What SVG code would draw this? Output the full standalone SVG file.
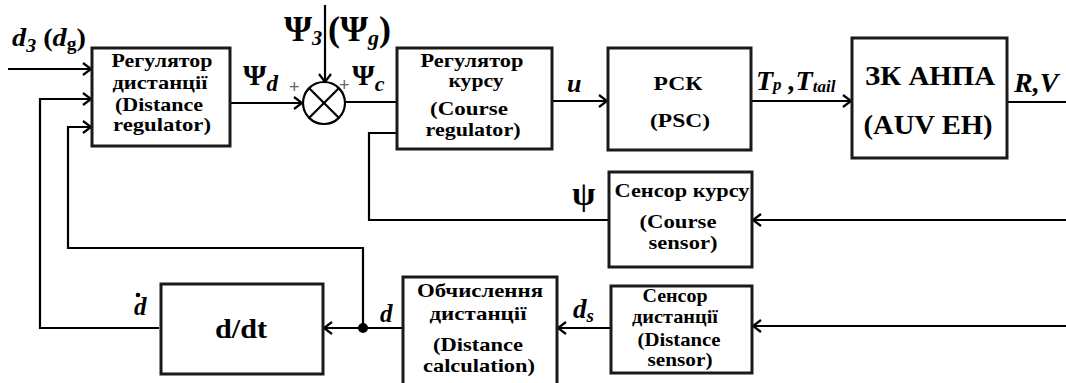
<svg xmlns="http://www.w3.org/2000/svg" width="1066" height="383" viewBox="0 0 1066 383">
<style>
.box{fill:#fff;stroke:#1a1a1a;stroke-width:3}
.ln{fill:none;stroke:#000;stroke-width:2.2}
.t{font-family:"Liberation Serif",Tinos,"Times New Roman","DejaVu Serif",serif;font-weight:bold;font-size:19px;fill:#000;text-anchor:middle}
.m{font-family:"Liberation Serif",Tinos,"Times New Roman","DejaVu Serif",serif;font-weight:bold;fill:#000}
.i{font-style:italic}
.n{font-style:normal}
.pl{font-family:"Liberation Sans",Arial,sans-serif;font-size:18px;fill:#666}
</style>
<defs>
<marker id="ar" markerUnits="userSpaceOnUse" markerWidth="12" markerHeight="14" refX="10" refY="7" orient="auto">
<path d="M2,1 L10,7 L2,13" fill="none" stroke="#000" stroke-width="2.2"/>
</marker>
</defs>

<g id="connectors">
<line class="ln" x1="8" y1="69" x2="91" y2="69" marker-end="url(#ar)"/>
<polyline class="ln" points="159,328 40,328 40,99 91,99" marker-end="url(#ar)"/>
<polyline class="ln" points="363,328 363,248 68,248 68,127 91,127" marker-end="url(#ar)"/>
<line class="ln" x1="231" y1="103" x2="302" y2="103" marker-end="url(#ar)"/>
<line class="ln" x1="325" y1="5" x2="325" y2="82" marker-end="url(#ar)"/>
<line class="ln" x1="345" y1="102" x2="397" y2="102"/>
<line class="ln" x1="553" y1="101" x2="607" y2="101" marker-end="url(#ar)"/>
<line class="ln" x1="752" y1="101" x2="851" y2="101" marker-end="url(#ar)"/>
<line class="ln" x1="1008" y1="102" x2="1066" y2="102"/>
<polyline class="ln" points="609,220 369,220 369,133 397,133"/>
<line class="ln" x1="1066" y1="220" x2="753" y2="220" marker-end="url(#ar)"/>
<line class="ln" x1="1066" y1="326" x2="753" y2="326" marker-end="url(#ar)"/>
<line class="ln" x1="611" y1="328" x2="558" y2="328" marker-end="url(#ar)"/>
<line class="ln" x1="403" y1="328" x2="324" y2="328" marker-end="url(#ar)"/>
<circle cx="363" cy="328" r="5" fill="#000"/>
</g>

<g id="sum">
<circle cx="324" cy="103" r="21" fill="#fff" stroke="#000" stroke-width="2.2"/>
<line class="ln" x1="309.2" y1="88.2" x2="338.8" y2="117.8"/>
<line class="ln" x1="338.8" y1="88.2" x2="309.2" y2="117.8"/>
<text class="pl" x="289" y="93">+</text>
<text class="pl" x="339" y="91">+</text>
</g>

<g id="distance-regulator">
<rect class="box" x="92" y="48" width="138" height="98"/>
<text class="t" x="162" y="67" textLength="101" lengthAdjust="spacingAndGlyphs">Регулятор</text>
<text class="t" x="160" y="89" textLength="95" lengthAdjust="spacingAndGlyphs">дистанції</text>
<text class="t" x="159" y="111" textLength="88" lengthAdjust="spacingAndGlyphs">(Distance</text>
<text class="t" x="162" y="131" textLength="98" lengthAdjust="spacingAndGlyphs">regulator)</text>
</g>

<g id="course-regulator">
<rect class="box" x="397" y="48" width="155" height="101"/>
<text class="t" x="472" y="67" textLength="103" lengthAdjust="spacingAndGlyphs">Регулятор</text>
<text class="t" x="476" y="87" textLength="55" lengthAdjust="spacingAndGlyphs">курсу</text>
<text class="t" x="469" y="115" textLength="78" lengthAdjust="spacingAndGlyphs">(Course</text>
<text class="t" x="473" y="136" textLength="95" lengthAdjust="spacingAndGlyphs">regulator)</text>
</g>

<g id="psc">
<rect class="box" x="608" y="48" width="143" height="102"/>
<text class="t" x="678" y="90" textLength="49" lengthAdjust="spacingAndGlyphs">РСК</text>
<text class="t" x="680" y="127" textLength="60" lengthAdjust="spacingAndGlyphs">(PSC)</text>
</g>

<g id="auv">
<rect class="box" x="852" y="38" width="155" height="120"/>
<text class="t" x="930" y="85" style="font-size:27px" textLength="130" lengthAdjust="spacingAndGlyphs">ЗК АНПА</text>
<text class="t" x="928" y="134" style="font-size:27px" textLength="129" lengthAdjust="spacingAndGlyphs">(AUV EH)</text>
</g>

<g id="course-sensor">
<rect class="box" x="609" y="172" width="143" height="95"/>
<text class="t" x="682" y="197" textLength="135" lengthAdjust="spacingAndGlyphs">Сенсор курсу</text>
<text class="t" x="678" y="228" textLength="77" lengthAdjust="spacingAndGlyphs">(Course</text>
<text class="t" x="683" y="249" textLength="69" lengthAdjust="spacingAndGlyphs">sensor)</text>
</g>

<g id="distance-sensor">
<rect class="box" x="611" y="286" width="141" height="87"/>
<text class="t" x="675" y="302" textLength="65" lengthAdjust="spacingAndGlyphs">Сенсор</text>
<text class="t" x="675" y="323" textLength="86" lengthAdjust="spacingAndGlyphs">дистанції</text>
<text class="t" x="679" y="346" textLength="83" lengthAdjust="spacingAndGlyphs">(Distance</text>
<text class="t" x="680" y="366" textLength="65" lengthAdjust="spacingAndGlyphs">sensor)</text>
</g>

<g id="distance-calculation">
<rect class="box" x="403" y="277" width="154" height="110"/>
<text class="t" x="480" y="297" textLength="126" lengthAdjust="spacingAndGlyphs">Обчислення</text>
<text class="t" x="478" y="320" textLength="97" lengthAdjust="spacingAndGlyphs">дистанції</text>
<text class="t" x="478" y="351" textLength="90" lengthAdjust="spacingAndGlyphs">(Distance</text>
<text class="t" x="479" y="372" textLength="112" lengthAdjust="spacingAndGlyphs">calculation)</text>
</g>

<g id="ddt">
<rect class="box" x="161" y="284" width="162" height="90"/>
<text class="t" x="241" y="338" style="font-size:28px" textLength="52" lengthAdjust="spacingAndGlyphs">d/dt</text>
</g>

<g id="labels">
<text class="m i" x="12" y="46" style="font-size:26px" textLength="74" lengthAdjust="spacingAndGlyphs">d<tspan class="i" style="font-size:18px" dy="6">З</tspan><tspan class="n" dy="-6"> (</tspan><tspan class="i">d</tspan><tspan class="n" style="font-size:18px" dy="4">g</tspan><tspan class="n" dy="-4">)</tspan></text>
<text class="m n" x="284" y="41" style="font-size:36px">Ψ<tspan class="i" style="font-size:20px" dy="4">З</tspan></text>
<text class="m n" x="328" y="41" style="font-size:36px">(Ψ<tspan class="i" style="font-size:22px" dy="4">g</tspan><tspan dy="-4">)</tspan></text>
<text class="m n" x="243" y="85" style="font-size:30px">Ψ<tspan class="i" style="font-size:23px" dy="6">d</tspan></text>
<text class="m n" x="352" y="85" style="font-size:29px">Ψ<tspan class="i" style="font-size:22px" dy="6">c</tspan></text>
<text class="m i" x="567" y="92" style="font-size:26px">u</text>
<text class="m i" x="756" y="90" style="font-size:28px">T<tspan style="font-size:17px">p</tspan><tspan> ,T</tspan><tspan style="font-size:17px" dy="2">tail</tspan></text>
<text class="m i" x="1014" y="92" style="font-size:28px">R,V</text>
<text class="m n" x="572" y="205" style="font-size:34px">ψ</text>
<text class="m i" x="134" y="315" style="font-size:25px">d</text>
<circle cx="138" cy="295" r="2.3" fill="#000"/>
<text class="m i" x="380" y="322" style="font-size:25px">d</text>
<text class="m i" x="573" y="318" style="font-size:27px">d<tspan style="font-size:19px" dy="4">s</tspan></text>
</g>
</svg>
